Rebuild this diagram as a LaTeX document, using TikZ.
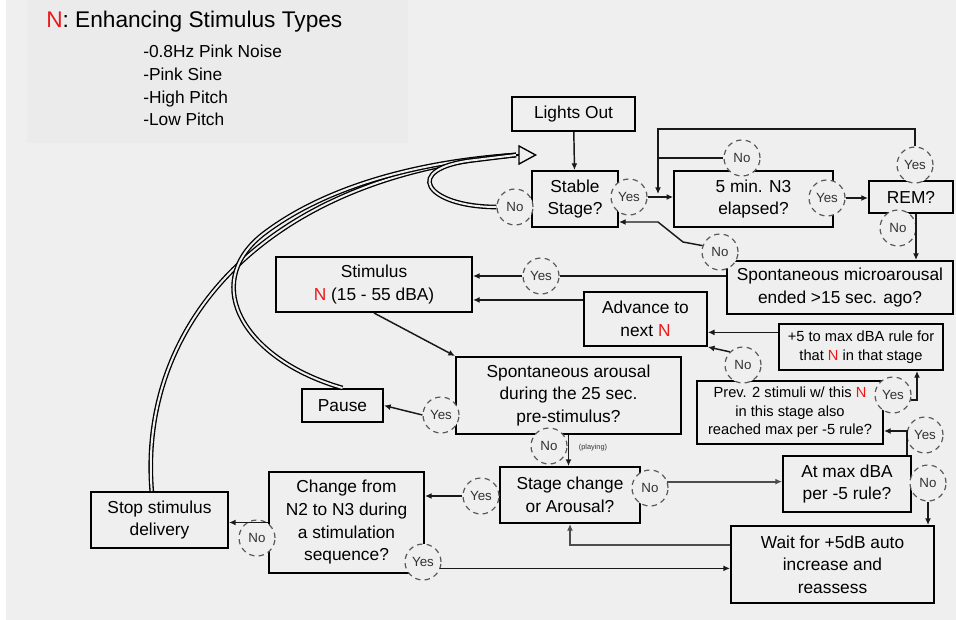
\documentclass[tikz,border=0pt]{standalone}
\usepackage{fontspec}
\setmainfont{Liberation Sans}
\usepackage{xcolor}
\usepackage{tikz}
\usetikzlibrary{arrows.meta}

\definecolor{bggray}{RGB}{239,239,239}
\definecolor{keygray}{RGB}{235,235,235}
\definecolor{nred}{RGB}{235,25,25}
\newcommand{\RN}{\textcolor{nred}{N}}

\begin{document}
\begin{tikzpicture}[x=0.75pt,y=0.75pt,yscale=-1,xscale=1,
    box/.style={draw, line width=1.5pt, fill=bggray, align=center, inner sep=1pt, font=\fontsize{13}{17}\selectfont},
    smallbox/.style={box, font=\fontsize{11}{14}\selectfont},
    answer/.style={circle, draw=black!65, dash pattern=on 4pt off 3.2pt, line width=0.9pt, fill=bggray, minimum size=27pt, inner sep=0pt, text=black!80, font=\fontsize{10}{12}\selectfont},
    conn/.style={line width=1.1pt, draw=black!90, -{Latex[length=5pt,width=4.5pt]}},
    link/.style={line width=1.1pt, draw=black!90},
    backline/.style={line width=1pt, double=bggray, double distance=1.5pt}]
        \fill[white] (0,0) rectangle (956,620);
        \fill[bggray] (6,0) rectangle (956,620);
        \fill[keygray] (27,0) rectangle (408,143);
        \useasboundingbox (0,0) rectangle (956,620);

        \node[anchor=west, inner sep=0pt, font=\fontsize{17}{20}\selectfont] (keyTitle) at (46,22) {\RN: Enhancing Stimulus Types};
        \node[anchor=north west, align=left, inner sep=0pt, font=\fontsize{13}{17}\selectfont] (keyList) at (143,45) {-0.8Hz Pink Noise\\-Pink Sine\\-High Pitch\\-Low Pitch};

        \node[box, minimum width=92pt, minimum height=25.5pt] (lights) at (573.5,114) {Lights Out};
        \node[box, minimum width=64.5pt, minimum height=42pt] (stable) at (575,199) {Stable\\Stage?};
        \node[box, minimum width=119pt, minimum height=42pt] (fivemin) at (753.5,199) {5 min. N3\\elapsed?};
        \node[box, minimum width=63pt, minimum height=24pt] (rem) at (911,197) {REM?};
        \node[box, minimum width=169.5pt, minimum height=39.75pt] (micro) at (840,287.5) {Spontaneous microarousal\\ended >15 sec. ago?};
        \node[box, minimum width=147pt, minimum height=41.25pt] (stim) at (374,284.5) {Stimulus\\\RN{} (15 - 55 dBA)};
        \node[box, minimum width=92pt, minimum height=40.5pt] (advance) at (645.5,319) {Advance to\\next \RN};
        \node[smallbox, minimum width=123pt, minimum height=34.5pt] (plusfive) at (861,347) {+5 to max dBA rule for\\that \RN{} in that stage};
        \node[box, minimum width=168.75pt, minimum height=57.75pt] (spont) at (568.5,395.5) {Spontaneous arousal\\during the 25 sec.\\pre-stimulus?};
        \node[box, minimum width=60.75pt, minimum height=24.75pt] (pause) at (342.5,405.5) {Pause};
        \node[smallbox, minimum width=139.5pt, minimum height=47.25pt] (prev) at (790,412.5) {Prev. 2 stimuli w/ this \RN\\in this stage also\\reached max per -5 rule?};
        \node[box, minimum width=105pt, minimum height=42pt] (stagech) at (570,495) {Stage change\\or Arousal?};
        \node[box, minimum width=96pt, minimum height=42pt] (atmax) at (847,484) {At max dBA\\per -5 rule?};
        \node[box, minimum width=116.25pt, minimum height=75.75pt] (change) at (346.5,522.5) {Change from\\N2 to N3 during\\a stimulation\\sequence?};
        \node[box, minimum width=102.75pt, minimum height=42pt] (stop) at (159.5,520) {Stop stimulus\\delivery};
        \node[box, minimum width=152.25pt, minimum height=57.75pt] (wait) at (832.5,564.5) {Wait for +5dB auto\\increase and\\reassess};

        \node[answer] (cNoStable) at (515,207) {No};
        \node[answer] (cYesStable) at (629,197) {Yes};
        \node[answer] (cNoFive) at (742,158) {No};
        \node[answer] (cYesFive) at (827,198) {Yes};
        \node[answer] (cYesRem) at (915,165) {Yes};
        \node[answer] (cNoRem) at (898,228) {No};
        \node[answer] (cNoMicro) at (720,252) {No};
        \node[answer] (cYesMicro) at (541,276) {Yes};
        \node[answer] (cYesSpont) at (441,415) {Yes};
        \node[answer] (cNoSpont) at (549,446) {No};
        \node[answer] (cNoPrev) at (743,365) {No};
        \node[answer] (cYesPrev) at (893,395) {Yes};
        \node[answer] (cYesMax) at (925,435) {Yes};
        \node[answer] (cNoMax) at (928,483) {No};
        \node[answer] (cYesStage) at (481,496) {Yes};
        \node[answer] (cNoStage) at (650,488) {No};
        \node[answer] (cNoChange) at (257,538) {No};
        \node[answer] (cYesChange) at (423,562) {Yes};
        \node[font=\fontsize{5.5}{6}\selectfont, text=black!80] (playing) at (593,448) {(playing)};

        \coordinate (loopTop) at (658,129);
        \coordinate (loopEnd) at (658,194);
        \coordinate (remDown) at (916,0);
        \coordinate (mBend1) at (683,242);
        \coordinate (mBend2) at (658,222);
        \coordinate (maxUp) at (907,431);
        \coordinate (pfUp) at (917,0);
        \coordinate (backEnd) at (516,155);
        \coordinate (backTip) at (537,155);

        \draw[conn] (lights) -- (stable);
        \draw[conn] (cYesStable.east) -- (cYesStable.east -| fivemin.west);
        \draw[conn] (cYesRem.north) |- (loopTop) -- (loopEnd);
        \draw[link] (cNoFive.west) -- (cNoFive.west -| loopTop);
        \draw[conn] (cYesFive.east) -- (cYesFive.east -| rem.west);
        \draw[conn] (remDown |- rem.south) -- (remDown |- micro.north);
        \draw[conn] (cNoMicro.160) -- (mBend1) -- (mBend2) -- (mBend2 -| stable.east);
        \draw[link] (cYesMicro.east) -- (cYesMicro.east -| micro.west);
        \draw[conn] (cYesMicro.west) -- (cYesMicro.west -| stim.east);
        \draw[conn] (advance.163) -- (advance.163 -| stim.east);
        \draw[conn] (stim.south) -- (spont.north west);
        \draw[conn] (cYesSpont.west) -- (pause.east);
        \draw[conn] (spont.south) -- (spont.south |- stagech.north);
        \draw[conn] (cYesStage.west) -- (cYesStage.west -| change.east);
        \draw[conn, line width=1.6pt, draw=black!70] (cNoStage.20) -- (cNoStage.20 -| atmax.west);
        \draw[conn] (maxUp |- atmax.north) -- (maxUp) -- (maxUp -| prev.east);
        \draw[conn] (cYesPrev.-15) -| (pfUp |- plusfive.south);
        \draw[conn] (plusfive.170) -- (plusfive.170 -| advance.east);
        \draw[conn] (cNoPrev.north west) -- (advance.south east);
        \draw[conn] (cNoMax.south) -- (cNoMax.south |- wait.north);
        \draw[conn, line width=1.6pt, draw=black!70] (wait.169) -| (stagech.south);
        \draw[conn] (cYesChange.-20) -- (cYesChange.-20 -| wait.west);
        \draw[conn] (change.west) -- (change.west -| stop.east);

        \draw[backline] (stop.105) .. controls (138,320) and (270,175) .. (backEnd);
        \draw[backline] (pause.north) .. controls (245,360) and (200,285) .. (262,235) .. controls (320,190) and (410,162) .. (backEnd);
        \draw[backline] (cNoStable.west) .. controls (425,207) and (400,168) .. (475,160) -- (backEnd);
        \draw[line width=1pt, -{Triangle[open, length=14pt, width=15pt]}] (backEnd) -- (backTip);
\end{tikzpicture}
\end{document}
